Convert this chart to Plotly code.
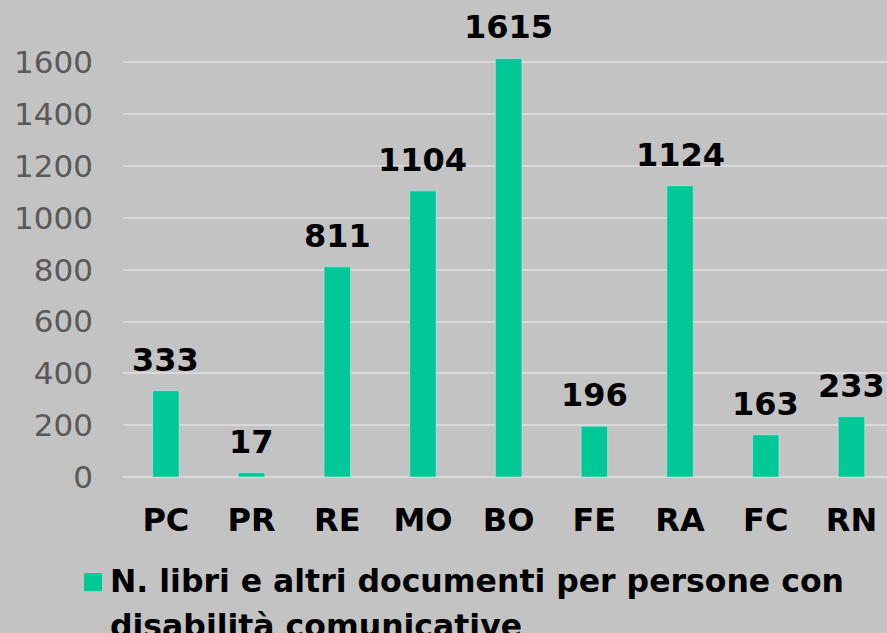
import plotly.graph_objects as go

categories = ["PC", "PR", "RE", "MO", "BO", "FE", "RA", "FC", "RN"]
values = [333, 17, 811, 1104, 1615, 196, 1124, 163, 233]
series_name = "N. libri e altri documenti per persone con<br>disabilità comunicative"
y_ticks = [0, 200, 400, 600, 800, 1000, 1200, 1400, 1600]

BAR = "#00C896"
BG = "#C3C3C3"
GRID = "#D9D9D9"
FONT = "DejaVu Sans"

# plot area geometry (pixels)
L, T, W, H = 123, 39, 764, 437.9


def py(pix):
    return (T + H - pix) / H


def px(pix):
    return (pix - L) / W


fig = go.Figure()
fig.add_trace(go.Bar(
    x=categories, y=values, marker_color=BAR, width=0.31,
    showlegend=False, hoverinfo="skip",
))

for c, v in zip(categories, values):
    fig.add_annotation(
        x=c, y=v, text=f"<b>{v}</b>", showarrow=False,
        yanchor="bottom", yshift=10,
        font=dict(family=FONT, size=32, color="#000000"),
    )

# legend drawn as a swatch plus text
fig.add_shape(type="rect", xref="paper", yref="paper",
              x0=px(84), x1=px(102), y0=py(573), y1=py(591),
              fillcolor=BAR, line_width=0)
for i, line in enumerate(series_name.split("<br>")):
    fig.add_annotation(
        xref="paper", yref="paper", x=px(108), y=py(561 + 45 * i),
        xanchor="left", yanchor="top", align="left", showarrow=False,
        text="<b>" + line + "</b>",
        font=dict(family=FONT, size=31.5, color="#000000"),
    )

fig.update_layout(
    width=887, height=633,
    paper_bgcolor=BG, plot_bgcolor=BG,
    margin=dict(l=L, r=0, t=T, b=633 - T - H),
    bargap=0.69,
    font=dict(family=FONT, size=31, color="#595959"),
)
fig.update_xaxes(
    range=[-0.5, 8.415], showgrid=False, showline=False, ticks="",
    tickfont=dict(family=FONT, size=32, color="#000000", weight="bold"),
    ticklabelstandoff=21,
)
fig.update_yaxes(
    range=[0, 1690], tickvals=y_ticks, showgrid=True, gridcolor=GRID,
    gridwidth=2, zeroline=True, zerolinecolor=GRID, zerolinewidth=2,
    showline=False, ticks="",
    tickfont=dict(family=FONT, size=31, color="#595959"),
    ticklabelstandoff=29,
)

fig.write_html(
    "out.html",
    config={"displayModeBar": False},
    post_script="document.body.style.margin='0';document.body.style.overflow='hidden';",
)
